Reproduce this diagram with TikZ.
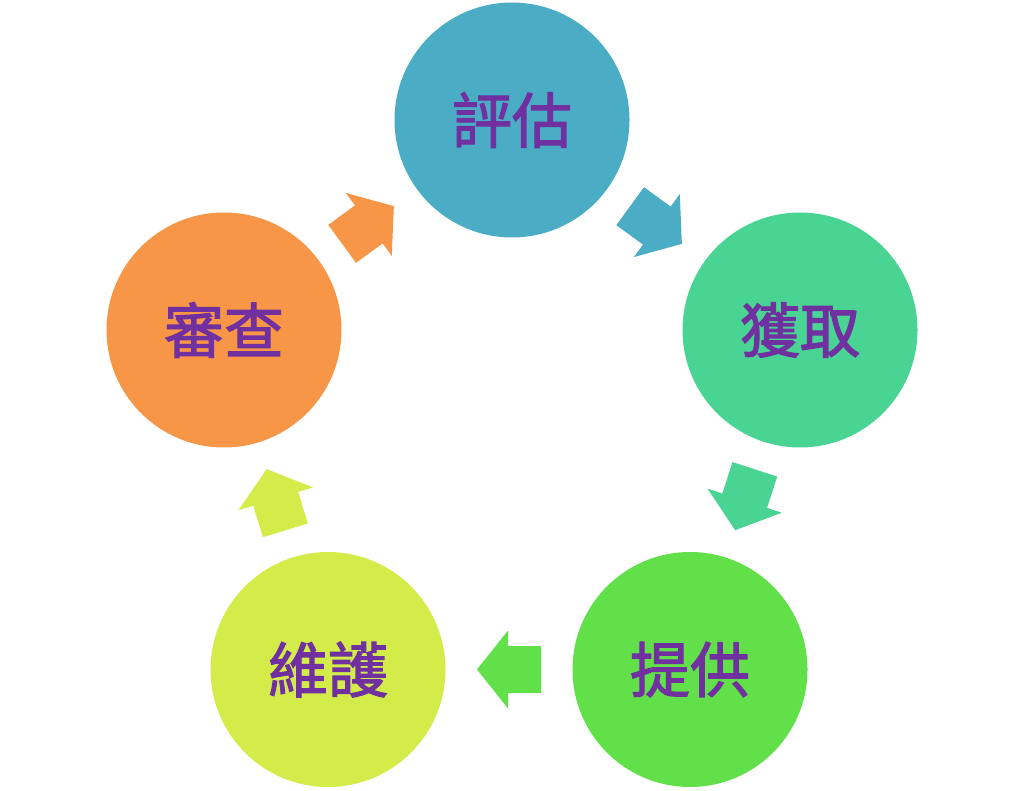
\documentclass[tikz,border=0pt]{standalone}
\usepackage{fontspec}
\newfontfamily\cjk{Noto Sans CJK TC}[FakeBold=2]
\definecolor{cpinggu}{HTML}{4BACC6}
\definecolor{chuoqu}{HTML}{4AD493}
\definecolor{ctigong}{HTML}{62E04A}
\definecolor{cweihu}{HTML}{D4EC4A}
\definecolor{cshencha}{HTML}{F79646}
\definecolor{textpurple}{HTML}{7030A0}
\begin{document}
\begin{tikzpicture}[x=1pt,y=1pt,
    stage/.style={circle,minimum size=235pt,inner sep=0pt,text=textpurple,
      font=\cjk\fontsize{60}{60}\selectfont},
    cyclearrow/.pic={\fill (-32,-23.5) -- (1,-23.5) -- (1,-39) -- (32,0) -- (1,39) -- (1,23.5) -- (-32,23.5) -- cycle;}]
            \useasboundingbox (0,0) rectangle (1024,790);
            \node[stage,fill=cpinggu] (pinggu) at (512,670) {評估};
            \node[stage,fill=chuoqu] (huoqu) at (800,460) {獲取};
            \node[stage,fill=ctigong] (tigong) at (690,120.5) {提供};
            \node[stage,fill=cweihu] (weihu) at (328,120.5) {維護};
            \node[stage,fill=cshencha] (shencha) at (224,460) {審查};
            \path (pinggu) -- (huoqu) pic[pos=0.5,sloped,allow upside down,cpinggu] {cyclearrow};
            \path (huoqu) -- (tigong) pic[pos=0.5,sloped,allow upside down,chuoqu] {cyclearrow};
            \path (tigong) -- (weihu) pic[pos=0.5,sloped,allow upside down,ctigong] {cyclearrow};
            \path (weihu) -- (shencha) pic[pos=0.5,sloped,allow upside down,cweihu] {cyclearrow};
            \path (shencha) -- (pinggu) pic[pos=0.5,sloped,allow upside down,cshencha] {cyclearrow};
        \end{tikzpicture}
\end{document}
